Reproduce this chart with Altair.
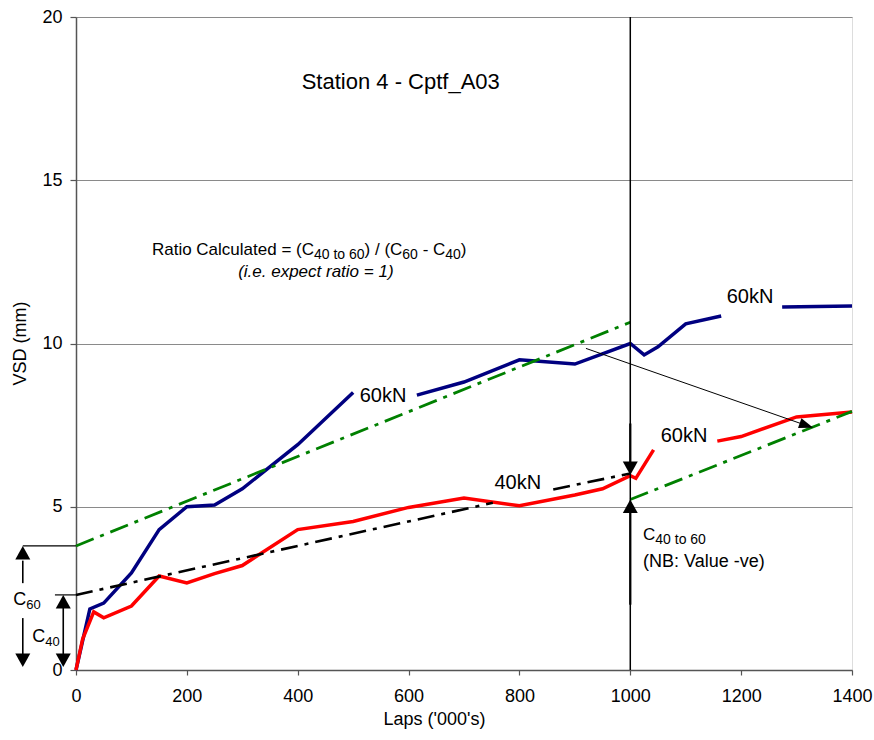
import altair as alt
import pandas as pd

FONT = "Liberation Sans"

# ---------------- data ----------------
x_ticks = [0, 200, 400, 600, 800, 1000, 1200, 1400]
y_ticks = [0, 5, 10, 15, 20]

# 60kN (blue) series, split where labels mask the line
blue_laps = [0, 25, 50, 100, 150, 200, 250, 300, 400, 500,
             615, 700, 800, 900, 1000, 1025, 1050, 1100, 1164,
             1274, 1400]
blue_vsd = [0, 1.87, 2.05, 2.97, 4.3, 5.0, 5.05, 5.55, 6.9, 8.5,
            8.42, 8.82, 9.5, 9.37, 10.0, 9.65, 9.9, 10.6, 10.84,
            11.12, 11.15]
blue_seg = [1] * 10 + [2] * 9 + [3] * 2

# 40kN then 60kN (red) series
red_laps = [0, 12, 32, 50, 100, 150, 200, 250, 300, 400, 500, 600, 700,
            800, 900, 950, 1000, 1010, 1042,
            1157, 1200, 1300, 1400]
red_vsd = [0, 0.95, 1.78, 1.6, 1.96, 2.88, 2.67, 2.95, 3.2, 4.3, 4.55, 4.98, 5.27,
           5.03, 5.36, 5.55, 5.95, 5.87, 6.74,
           7.01, 7.15, 7.75, 7.9]
red_seg = [1] * 19 + [2] * 4

# trend lines
t40_laps = [0, 752, 861, 1000]
t40_vsd = [2.3, 5.12, 5.53, 6.02]
t40_seg = [1, 1, 2, 2]
t60a_laps = [0, 1000]
t60a_vsd = [3.8, 10.65]
t60b_laps = [1000, 1400]
t60b_vsd = [5.22, 7.92]

# annotation line segments
ann_x1 = [1000, 1000, 1000, 920, -96, -38, -96, -96, -23]
ann_y1 = [0, 7.55, 2.0, 9.85, 3.8, 2.3, 3.35, 1.59, 2.0]
ann_x2 = [1000, 1000, 1000, 1316, 0, 0, -96, -96, -23]
ann_y2 = [20, 6.3, 4.9, 7.5, 3.8, 2.3, 2.66, 0.4, 0.4]
ann_w = [1.5, 2.2, 2.2, 1.0, 1.2, 1.2, 1.6, 1.6, 1.6]

# arrow heads (tips)
up_x = [-96, -23, 1000]
up_y = [3.8, 2.3, 5.22]
down_x = [-96, -23, 1000]
down_y = [0.09, 0.09, 5.97]
diag_x = [1330]
diag_y = [7.42]

# ---------------- helpers ----------------
AW = {' ': 278, '(': 333, ')': 333, '/': 278, '-': 333, '=': 584, '.': 278,
      ':': 278, 'C': 722, 'R': 722, 'a': 556, 't': 278, 'i': 222, 'o': 556,
      'l': 222, 'c': 500, 'u': 556, 'e': 556, 'd': 556}
for _d in "0123456789":
    AW[_d] = 556


def tw(s, size):
    return sum(AW.get(c, 556) for c in s) / 1000.0 * size


xs = alt.Scale(domain=[0, 1400], nice=False, zero=False)
ys = alt.Scale(domain=[0, 20], nice=False, zero=False)
X_AX = alt.Axis(values=x_ticks, format="d", grid=False, labelFlush=False, labelFontSize=18,
                labelPadding=12, tickSize=5, tickColor="#555555", domainColor="#555555",
                domainWidth=1.5, tickWidth=1.2, titleFontSize=18, titleFontWeight="normal",
                titleX=358, titleY=49, titleBaseline="middle", titleAlign="center",
                labelFont=FONT, titleFont=FONT, labelColor="black", titleColor="black")
Y_AX = alt.Axis(values=y_ticks, format="d", grid=True, gridColor="#8a8a8a", gridWidth=1.2,
                labelFontSize=18, labelPadding=8, tickSize=6, tickColor="#555555",
                domainColor="#555555", domainWidth=1.5, tickWidth=1.2,
                titleFontSize=18, titleFontWeight="normal", titleX=-56, titleY=326,
                titleAngle=270, titleBaseline="middle", titleAlign="center",
                labelFont=FONT, titleFont=FONT, labelColor="black", titleColor="black")


def X(f):
    return alt.X(f, type="quantitative", scale=xs, axis=X_AX, title="Laps ('000's)")


def Y(f):
    return alt.Y(f, type="quantitative", scale=ys, axis=Y_AX, title="VSD (mm)")


def line_layer(laps, vsd, seg, color, width, dash=None):
    df = pd.DataFrame({"x": laps, "y": vsd, "seg": seg})
    kw = dict(color=color, strokeWidth=width, clip=False)
    if dash:
        kw["strokeDash"] = dash
    return alt.Chart(df).mark_line(**kw).encode(
        x=X("x"), y=Y("y"), detail="seg:N", order="x:Q")


def text_pieces(pieces, x, y, align="left", italic=False):
    """pieces: list of (text, size, dy). Laid out left to right.
    Leading/trailing spaces are turned into offsets (SVG collapses them)."""
    layers = []
    total = sum(tw(t, s) for t, s, _ in pieces)
    dx = -total / 2.0 if align == "center" else 0.0
    for t, s, dy in pieces:
        lead = len(t) - len(t.lstrip(" "))
        core = t.strip(" ")
        df = pd.DataFrame({"x": [x], "y": [y], "t": [core]})
        kw = dict(align="left", baseline="alphabetic", dx=dx + tw(" " * lead, s), dy=dy,
                  fontSize=s, font=FONT, color="black", clip=False)
        if italic:
            kw["fontStyle"] = "italic"
        layers.append(alt.Chart(df).mark_text(**kw).encode(x=X("x"), y=Y("y"), text="t:N"))
        dx += tw(t, s)
    return layers


layers = []

# data series
layers.append(line_layer(blue_laps, blue_vsd, blue_seg, "#000080", 3.5))
layers.append(line_layer(red_laps, red_vsd, red_seg, "#ff0000", 3.5))
layers.append(line_layer(t40_laps, t40_vsd, t40_seg, "black", 2.6, [17, 7, 4, 7]))
layers.append(line_layer(t60a_laps, t60a_vsd, [1, 1], "#008000", 2.8, [19, 7, 4, 7]))
layers.append(line_layer(t60b_laps, t60b_vsd, [1, 1], "#008000", 2.8, [19, 7, 4, 7]))

# annotation rules
ann = pd.DataFrame({"x": ann_x1, "y": ann_y1, "x2": ann_x2, "y2": ann_y2, "w": ann_w})
layers.append(alt.Chart(ann).mark_rule(color="black", clip=False).encode(
    x=X("x"), y=Y("y"), x2="x2:Q", y2="y2:Q",
    strokeWidth=alt.StrokeWidth("w:Q", scale=None)))

# arrow heads
UP = "M0,0L-1,1.8L1,1.8Z"
DOWN = "M0,0L-1,-1.8L1,-1.8Z"
NARROW = "M0,0L-0.7,1.9L0.7,1.9Z"
for hx, hy, shp, ang in [(up_x, up_y, UP, 0), (down_x, down_y, DOWN, 0),
                         (diag_x, diag_y, NARROW, 109)]:
    df = pd.DataFrame({"x": hx, "y": hy})
    kw = dict(shape=shp, filled=True, size=225, color="black", opacity=1,
              strokeWidth=0, clip=False)
    if ang:
        kw["angle"] = ang
    layers.append(alt.Chart(df).mark_point(**kw).encode(x=X("x"), y=Y("y")))

# labels
lab_text = ["60kN", "60kN", "60kN", "40kN"]
lab_x = [554, 1216, 1097, 797]
lab_y = [8.21, 11.24, 6.98, 5.54]
lab = pd.DataFrame({"x": lab_x, "y": lab_y, "t": lab_text})
layers.append(alt.Chart(lab).mark_text(align="center", baseline="alphabetic", fontSize=20,
                                       font=FONT, color="black").encode(
    x=X("x"), y=Y("y"), text="t:N"))

layers += text_pieces([("Station 4 - Cptf_A03", 22, 0)], 587, 17.8, align="center")
layers += text_pieces([("Ratio Calculated = (C", 17, 0), ("40 to 60", 14, 4),
                       (") / (C", 17, 0), ("60", 14, 4), (" - C", 17, 0),
                       ("40", 14, 4), (")", 17, 0)], 137, 12.71)
layers += text_pieces([("(i.e. expect ratio = 1)", 17, 0)], 437, 12.05, align="center",
                      italic=True)
layers += text_pieces([("C", 17, 0), ("40 to 60", 14, 4)], 1023, 3.98)
layers += text_pieces([("(NB: Value -ve)", 18, 0)], 1023, 3.15)
layers += text_pieces([("C", 18, 0), ("60", 13, 4)], -113, 2.0)
layers += text_pieces([("C", 18, 0), ("40", 13, 4)], -79, 0.86)

chart = alt.layer(*layers).properties(
    width=776, height=653,
    autosize=alt.AutoSizeParams(type="none"),
    padding={"left": 76, "top": 17, "right": 22, "bottom": 70},
    background="white",
).configure_view(stroke="#8a8a8a", strokeWidth=1.5).configure(font=FONT)

chart.save("out.html", embed_options={"renderer": "svg", "actions": False})
